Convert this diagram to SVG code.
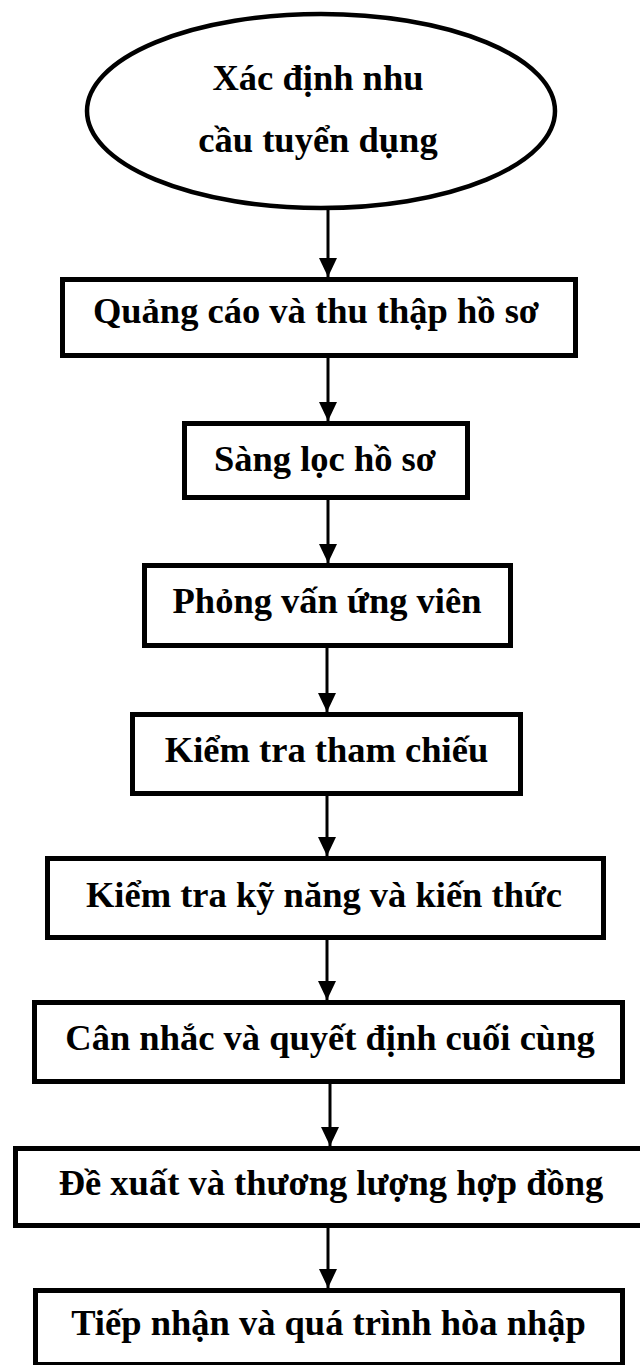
<svg xmlns="http://www.w3.org/2000/svg" width="640" height="1365" viewBox="0 0 640 1365">
<defs>
<style>
.box{fill:#fff;stroke:#000;stroke-width:5}
.lbl{font-family:"Liberation Serif","Times New Roman",serif;font-weight:bold;font-size:36.5px;fill:#000;text-anchor:middle}
.ln{stroke:#000;stroke-width:3;fill:none}
</style>
<marker id="ah" markerUnits="userSpaceOnUse" markerWidth="20" markerHeight="20" viewBox="0 0 20 20" refX="19" refY="10" orient="auto">
<path d="M0,1 L19,10 L0,19 Z" fill="#000"/>
</marker>
</defs>
<rect width="640" height="1365" fill="#fff"/>
<g id="connectors">
<line class="ln" x1="328" y1="210" x2="328" y2="277" marker-end="url(#ah)"/>
<line class="ln" x1="328" y1="358" x2="328" y2="421" marker-end="url(#ah)"/>
<line class="ln" x1="328" y1="500" x2="328" y2="563" marker-end="url(#ah)"/>
<line class="ln" x1="327" y1="648" x2="327" y2="712" marker-end="url(#ah)"/>
<line class="ln" x1="327" y1="796" x2="327" y2="856" marker-end="url(#ah)"/>
<line class="ln" x1="327" y1="940" x2="327" y2="1000" marker-end="url(#ah)"/>
<line class="ln" x1="330" y1="1084" x2="330" y2="1146" marker-end="url(#ah)"/>
<line class="ln" x1="328" y1="1228" x2="328" y2="1288" marker-end="url(#ah)"/>
</g>
<g id="n0">
<ellipse cx="321" cy="111" rx="234" ry="97" fill="#fff" stroke="#000" stroke-width="4.5"/>
<text class="lbl" x="318" y="90">Xác định nhu</text>
<text class="lbl" x="318" y="152">cầu tuyển dụng</text>
</g>
<g id="n1">
<rect class="box" x="62.5" y="279.5" width="513" height="76"/>
<text class="lbl" x="316" y="323">Quảng cáo và thu thập hồ sơ</text>
</g>
<g id="n2">
<rect class="box" x="184.5" y="423.5" width="283" height="74"/>
<text class="lbl" x="325" y="471">Sàng lọc hồ sơ</text>
</g>
<g id="n3">
<rect class="box" x="144.5" y="565.5" width="366" height="80"/>
<text class="lbl" x="327" y="613">Phỏng vấn ứng viên</text>
</g>
<g id="n4">
<rect class="box" x="132.5" y="714.5" width="388" height="79"/>
<text class="lbl" x="326.5" y="762">Kiểm tra tham chiếu</text>
</g>
<g id="n5">
<rect class="box" x="47.5" y="858.5" width="556" height="79"/>
<text class="lbl" x="324" y="907">Kiểm tra kỹ năng và kiến thức</text>
</g>
<g id="n6">
<rect class="box" x="34.5" y="1002.5" width="588" height="79"/>
<text class="lbl" x="330" y="1050">Cân nhắc và quyết định cuối cùng</text>
</g>
<g id="n7">
<rect class="box" x="15.5" y="1148.5" width="630" height="77"/>
<text class="lbl" x="331" y="1195">Đề xuất và thương lượng hợp đồng</text>
</g>
<g id="n8">
<rect class="box" x="35.5" y="1290.5" width="587" height="74"/>
<text class="lbl" x="328.5" y="1335">Tiếp nhận và quá trình hòa nhập</text>
</g>
</svg>
